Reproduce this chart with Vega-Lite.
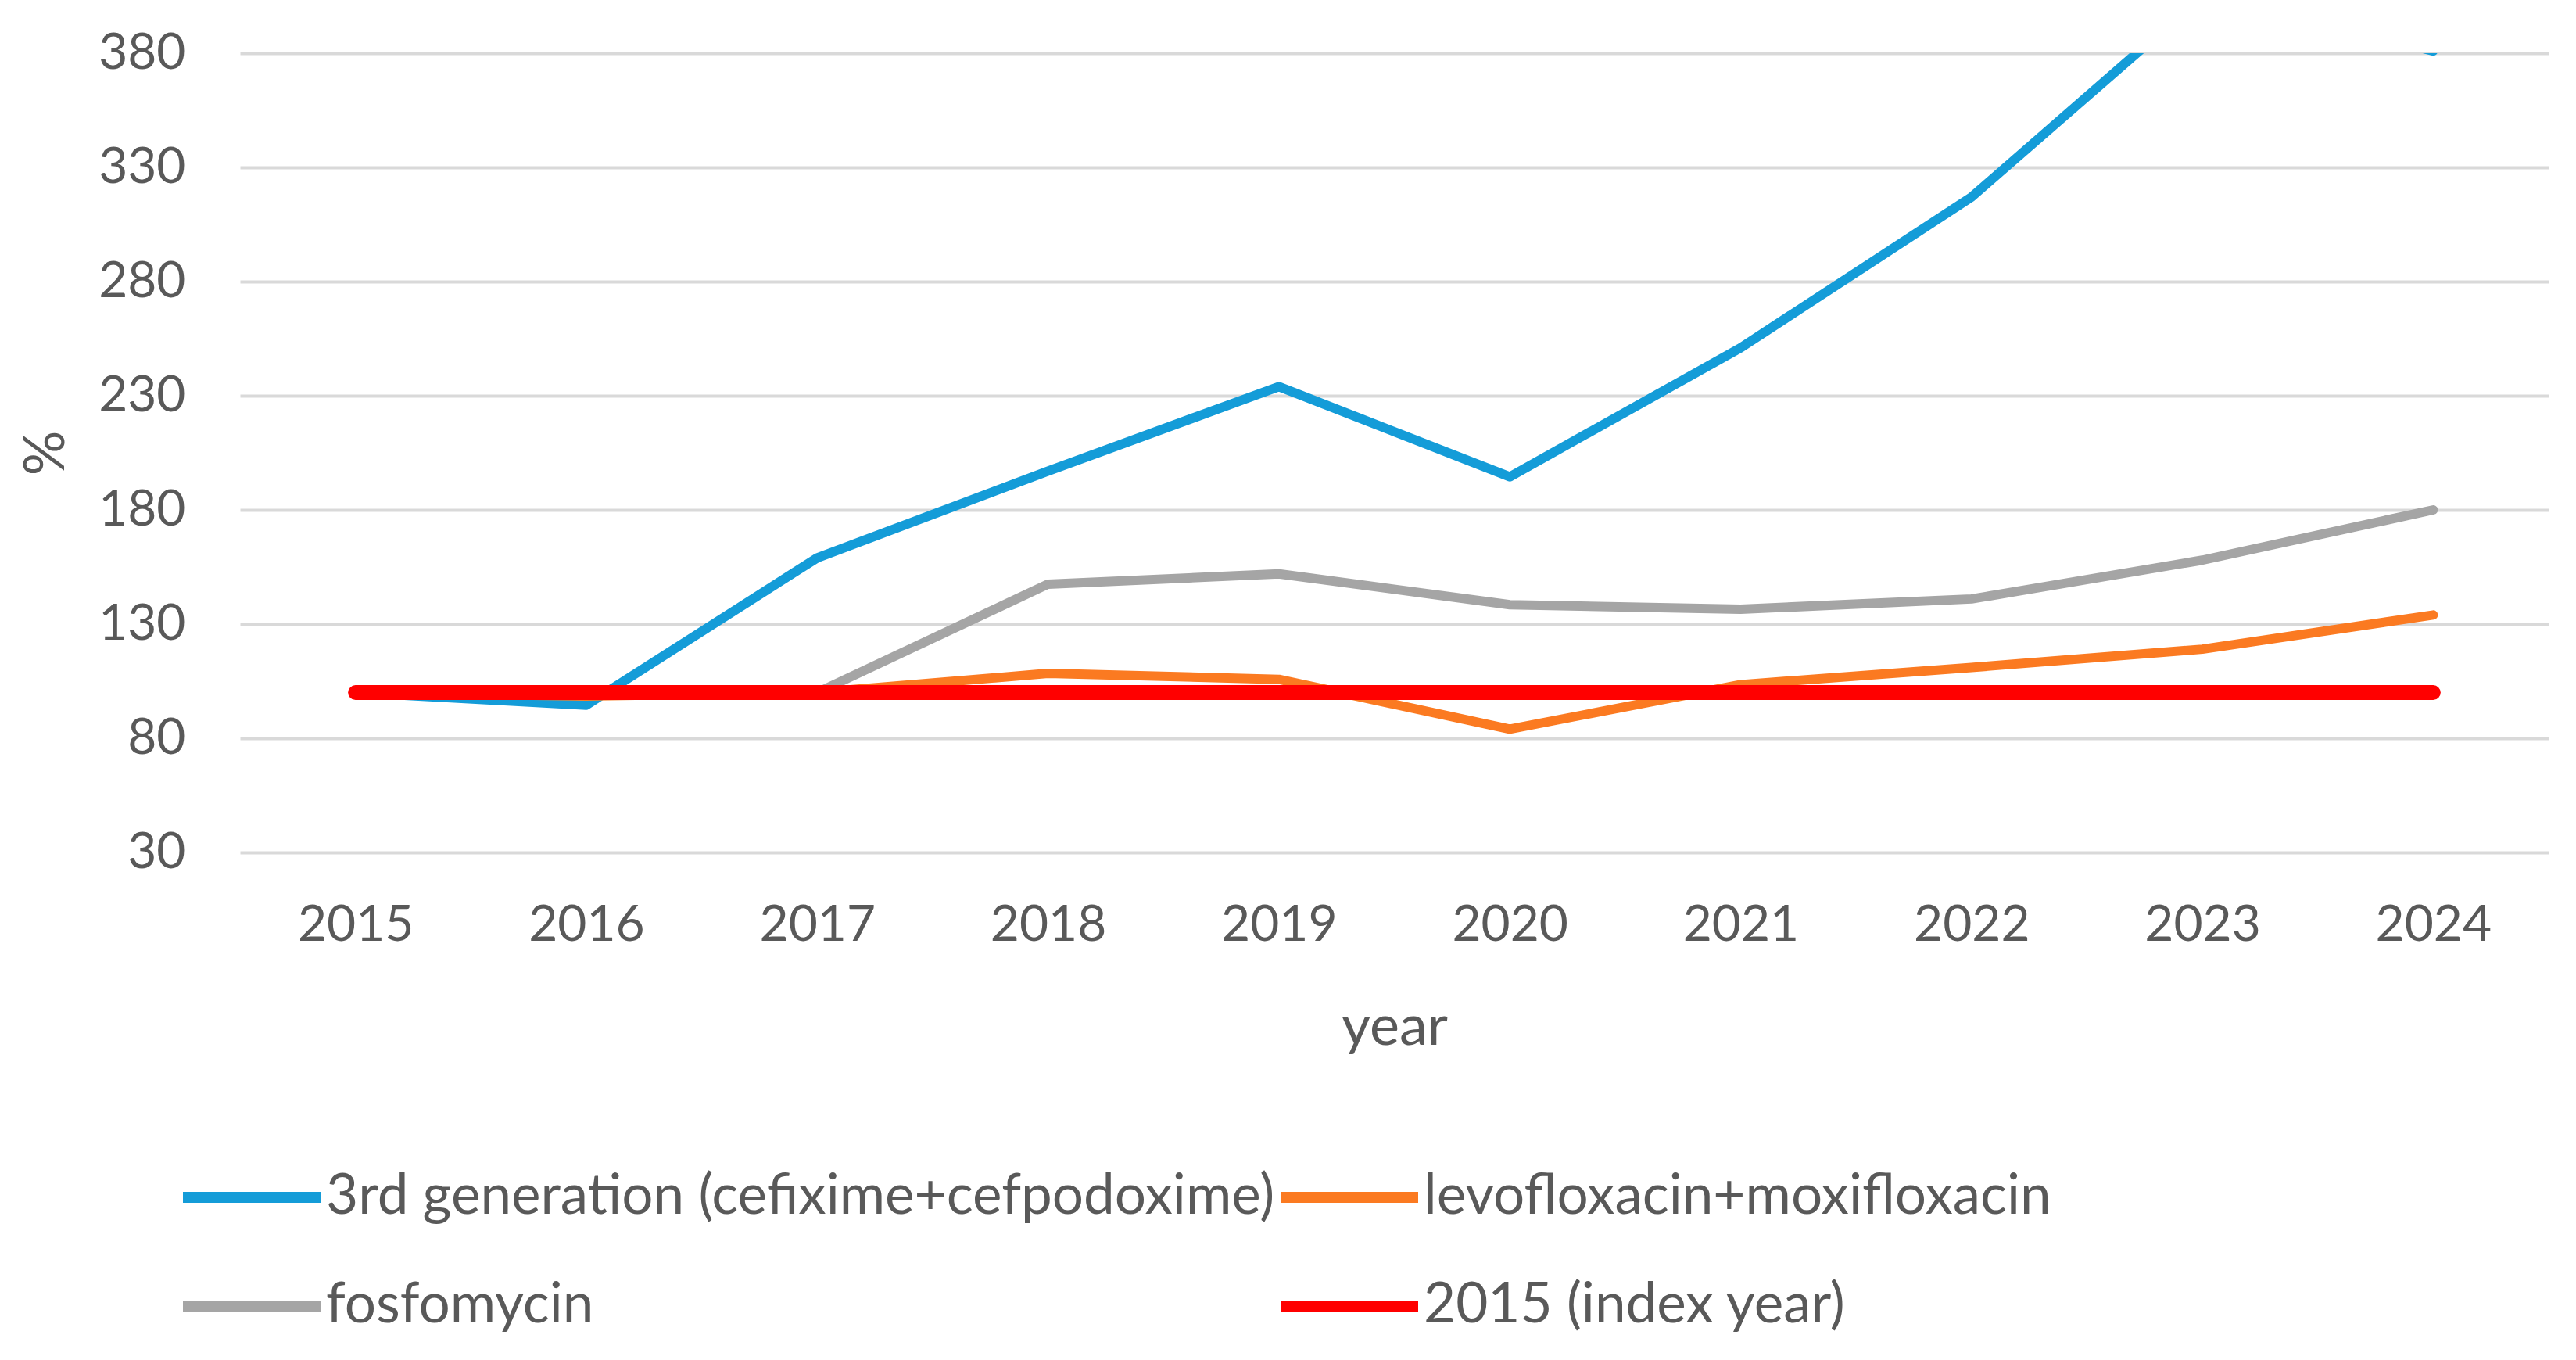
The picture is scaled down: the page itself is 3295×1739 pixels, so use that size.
{
  "$schema": "https://vega.github.io/schema/vega-lite/v6.json",
  "width": 2953,
  "height": 1022,
  "autosize": {"type": "none"},
  "padding": {"left": 307, "top": 68, "right": 35, "bottom": 649},
  "background": "white",
  "config": {
    "font": "Lato",
    "view": {"stroke": null},
    "axis": {
      "labelColor": "#595959",
      "titleColor": "#595959",
      "labelFontSize": 64,
      "titleFontSize": 72,
      "titleFontWeight": "normal",
      "domain": false,
      "ticks": false
    }
  },
  "data": {
    "values": [
      {"year": "2015", "series": "3rd generation (cefixime+cefpodoxime)", "value": 100},
      {"year": "2016", "series": "3rd generation (cefixime+cefpodoxime)", "value": 94.5},
      {"year": "2017", "series": "3rd generation (cefixime+cefpodoxime)", "value": 159},
      {"year": "2018", "series": "3rd generation (cefixime+cefpodoxime)", "value": 197},
      {"year": "2019", "series": "3rd generation (cefixime+cefpodoxime)", "value": 234},
      {"year": "2020", "series": "3rd generation (cefixime+cefpodoxime)", "value": 194.5},
      {"year": "2021", "series": "3rd generation (cefixime+cefpodoxime)", "value": 251},
      {"year": "2022", "series": "3rd generation (cefixime+cefpodoxime)", "value": 317},
      {"year": "2023", "series": "3rd generation (cefixime+cefpodoxime)", "value": 405},
      {"year": "2024", "series": "3rd generation (cefixime+cefpodoxime)", "value": 381},
      {"year": "2015", "series": "levofloxacin+moxifloxacin", "value": 100},
      {"year": "2016", "series": "levofloxacin+moxifloxacin", "value": 98.5},
      {"year": "2017", "series": "levofloxacin+moxifloxacin", "value": 100},
      {"year": "2018", "series": "levofloxacin+moxifloxacin", "value": 108.4},
      {"year": "2019", "series": "levofloxacin+moxifloxacin", "value": 105.8},
      {"year": "2020", "series": "levofloxacin+moxifloxacin", "value": 84},
      {"year": "2021", "series": "levofloxacin+moxifloxacin", "value": 103.5},
      {"year": "2022", "series": "levofloxacin+moxifloxacin", "value": 111},
      {"year": "2023", "series": "levofloxacin+moxifloxacin", "value": 119},
      {"year": "2024", "series": "levofloxacin+moxifloxacin", "value": 134},
      {"year": "2015", "series": "fosfomycin", "value": 100},
      {"year": "2016", "series": "fosfomycin", "value": 99.5},
      {"year": "2017", "series": "fosfomycin", "value": 100},
      {"year": "2018", "series": "fosfomycin", "value": 147.5},
      {"year": "2019", "series": "fosfomycin", "value": 152},
      {"year": "2020", "series": "fosfomycin", "value": 138.5},
      {"year": "2021", "series": "fosfomycin", "value": 136.5},
      {"year": "2022", "series": "fosfomycin", "value": 141},
      {"year": "2023", "series": "fosfomycin", "value": 158},
      {"year": "2024", "series": "fosfomycin", "value": 180},
      {"year": "2015", "series": "2015 (index year)", "value": 100},
      {"year": "2016", "series": "2015 (index year)", "value": 100},
      {"year": "2017", "series": "2015 (index year)", "value": 100},
      {"year": "2018", "series": "2015 (index year)", "value": 100},
      {"year": "2019", "series": "2015 (index year)", "value": 100},
      {"year": "2020", "series": "2015 (index year)", "value": 100},
      {"year": "2021", "series": "2015 (index year)", "value": 100},
      {"year": "2022", "series": "2015 (index year)", "value": 100},
      {"year": "2023", "series": "2015 (index year)", "value": 100},
      {"year": "2024", "series": "2015 (index year)", "value": 100}
    ]
  },
  "encoding": {
    "x": {
      "field": "year",
      "type": "ordinal",
      "sort": null,
      "scale": {"type": "point", "padding": 0.5},
      "axis": {
        "title": "year",
        "labelAngle": 0,
        "labelPadding": 93,
        "labelBaseline": "middle",
        "titleY": 223,
        "titleBaseline": "middle",
        "grid": false
      }
    },
    "y": {
      "field": "value",
      "type": "quantitative",
      "scale": {"domain": [30, 380], "nice": false, "zero": false},
      "axis": {
        "title": "%",
        "values": [30, 80, 130, 180, 230, 280, 330, 380],
        "grid": true,
        "gridColor": "#D9D9D9",
        "gridWidth": 4,
        "labelPadding": 70,
        "titleX": -248,
        "titleY": 511,
        "titleAngle": 270,
        "titleAlign": "center",
        "titleBaseline": "middle"
      }
    },
    "color": {
      "field": "series",
      "type": "nominal",
      "scale": {
        "domain": ["3rd generation (cefixime+cefpodoxime)", "levofloxacin+moxifloxacin", "fosfomycin", "2015 (index year)"],
        "range": ["#149CD8", "#FB7A21", "#A5A5A5", "#FF0000"]
      },
      "legend": {
        "title": null,
        "orient": "none",
        "legendX": -80,
        "legendY": 1427,
        "columns": 2,
        "direction": "horizontal",
        "symbolType": "stroke",
        "symbolSize": 30976,
        "symbolStrokeWidth": 14,
        "clipHeight": 72,
        "rowPadding": 67,
        "columnPadding": 0,
        "labelOffset": 0,
        "labelFontSize": 71,
        "labelColor": "#595959",
        "labelLimit": 3000,
        "padding": 0
      }
    }
  },
  "layer": [
    {
      "transform": [{"filter": "datum.series !== '2015 (index year)'"}],
      "mark": {"type": "line", "strokeWidth": 12, "clip": true, "strokeJoin": "round", "strokeCap": "round"}
    },
    {
      "transform": [{"filter": "datum.series === '2015 (index year)'"}],
      "mark": {"type": "line", "strokeWidth": 19, "clip": true, "strokeCap": "round"}
    }
  ]
}
